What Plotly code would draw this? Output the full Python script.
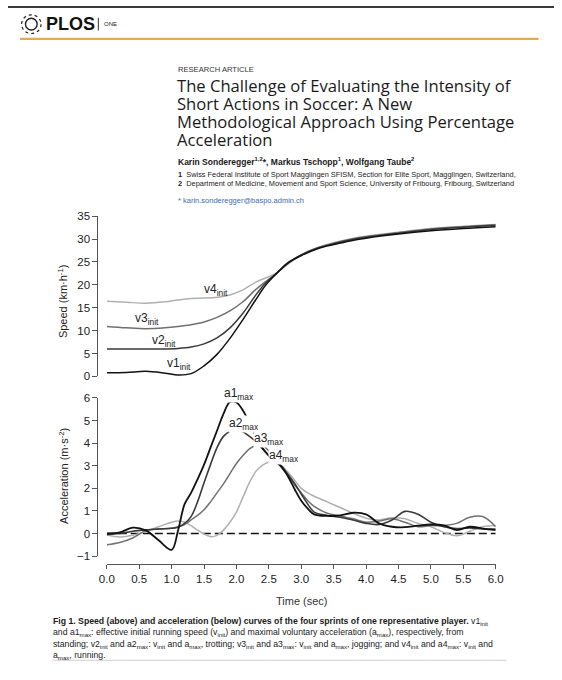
import plotly.graph_objects as go

W, H = 562, 680

# ---------------- data ----------------
t_speed = [0, 0.3, 0.6, 0.9, 1.1, 1.3, 1.5, 1.7, 1.9, 2.1, 2.3, 2.45, 2.6, 2.8, 3.0,
           3.25, 3.5, 3.75, 4.0, 4.5, 5.0, 5.5, 6.0]
v1 = [0.8, 0.85, 1.1, 0.7, 0.3, 0.6, 2.3, 4.8, 8.3, 12.4, 16.8, 19.9, 22.2, 24.8, 26.4,
      27.9, 28.8, 29.6, 30.2, 31.1, 31.8, 32.3, 32.7]
v2 = [6.0, 6.0, 6.0, 6.0, 6.1, 6.4, 7.1, 8.4, 10.6, 13.8, 17.8, 20.4, 22.3, 24.9, 26.5,
      28.0, 29.0, 29.8, 30.4, 31.3, 32.1, 32.6, 33.0]
v3 = [10.9, 10.6, 10.4, 10.6, 10.9, 11.3, 11.9, 12.9, 14.3, 16.3, 19.0, 20.7, 22.3, 24.8, 26.6,
      28.1, 29.1, 29.9, 30.5, 31.4, 32.2, 32.7, 33.1]
v4 = [16.4, 16.2, 16.0, 16.3, 16.7, 17.0, 17.1, 17.3, 17.8, 18.9, 20.6, 21.5, 22.4, 24.6, 26.5,
      28.1, 29.2, 30.0, 30.6, 31.5, 32.3, 32.8, 33.2]

t_acc = [0, 0.2, 0.4, 0.6, 0.8, 1.0, 1.1, 1.2, 1.3, 1.4, 1.5, 1.6, 1.7, 1.8, 1.9, 2.0,
         2.1, 2.2, 2.3, 2.4, 2.5, 2.6, 2.7, 2.8, 2.9, 3.0, 3.1, 3.2, 3.4, 3.6, 3.8, 4.0,
         4.2, 4.4, 4.6, 4.8, 5.0, 5.2, 5.4, 5.6, 5.8, 6.0]
a1 = [0.0, 0.05, 0.26, 0.14, -0.3, -0.72, 0.15, 1.3, 1.8, 2.4, 3.05, 3.8, 4.55, 5.3, 5.82, 5.8,
      5.45, 4.9, 4.3, 3.8, 3.45, 3.2, 2.95, 2.5, 1.95, 1.45, 1.1, 0.85, 0.78, 0.8, 0.92, 0.85,
      0.45, 0.3, 0.28, 0.35, 0.4, 0.36, 0.15, 0.3, 0.22, 0.15]
a2 = [-0.05, 0.0, 0.1, 0.16, 0.2, 0.23, 0.28, 0.45, 0.75, 1.4, 2.25, 3.05, 3.8, 4.3, 4.52, 4.6,
      4.5, 4.3, 4.07, 3.75, 3.45, 3.2, 2.95, 2.6, 2.2, 1.75, 1.3, 0.95, 0.8, 0.72, 0.6, 0.45,
      0.4, 0.6, 0.98, 0.85, 0.5, 0.3, 0.22, 0.25, 0.2, 0.2]
a3 = [-0.5, -0.4, -0.2, 0.12, 0.2, 0.23, 0.3, 0.4, 0.6, 0.8, 1.05, 1.4, 1.8, 2.2, 2.65, 3.1,
      3.45, 3.75, 3.9, 3.9, 3.65, 3.3, 2.9, 2.55, 2.15, 1.8, 1.45, 1.2, 0.9, 0.78, 0.65, 0.5,
      0.55, 0.65, 0.5, 0.3, 0.35, 0.35, 0.45, 0.72, 0.75, 0.3]
a4 = [-0.05, -0.15, -0.08, 0.1, 0.3, 0.5, 0.55, 0.5, 0.35, 0.15, -0.02, -0.14, -0.08, 0.15, 0.5, 0.95,
      1.6, 2.25, 2.75, 3.02, 3.15, 3.17, 3.0, 2.7, 2.35, 2.0, 1.8, 1.65, 1.4, 1.15, 0.9, 0.68,
      0.6, 0.7, 0.65, 0.45, 0.3, 0.05, -0.1, 0.1, 0.3, 0.35]

speed_ticks = [0, 5, 10, 15, 20, 25, 30, 35]
acc_ticks = [-1, 0, 1, 2, 3, 4, 5, 6]
time_ticks = [0.0, 0.5, 1.0, 1.5, 2.0, 2.5, 3.0, 3.5, 4.0, 4.5, 5.0, 5.5, 6.0]

colors = ["#111111", "#3a3a3a", "#707070", "#b0b0b0"]

# ---------------- helpers ----------------
def fx(px):
    return px / W

def fy(py):
    return 1 - py / H

fig = go.Figure()

for v, c in zip([v4, v3, v2, v1], colors[::-1]):
    fig.add_trace(go.Scatter(x=t_speed, y=v, mode="lines", xaxis="x2", yaxis="y2",
                             line=dict(color=c, width=1.5, shape="spline", smoothing=1.0),
                             hoverinfo="skip"))

fig.add_trace(go.Scatter(x=[0, 6], y=[0, 0], mode="lines", xaxis="x", yaxis="y",
                         line=dict(color="#111111", width=1.6, dash="8px,4px"), hoverinfo="skip"))

for a, c, w in zip([a4, a3, a2, a1], colors[::-1], [1.5, 1.5, 1.6, 1.8]):
    fig.add_trace(go.Scatter(x=t_acc, y=a, mode="lines", xaxis="x", yaxis="y",
                             line=dict(color=c, width=w, shape="spline", smoothing=1.0),
                             hoverinfo="skip"))

tickfont = dict(family="Liberation Sans, Arial, sans-serif", size=11.5, color="#222222")
axcol = "#555555"

fig.update_layout(
    width=W, height=H, margin=dict(l=0, r=0, t=0, b=0),
    paper_bgcolor="white", plot_bgcolor="white", showlegend=False,
    xaxis=dict(domain=[fx(101.7), fx(502)], range=[0, 6], anchor="free", position=fy(568),
               showline=True, linecolor=axcol, linewidth=1, ticks="outside", ticklen=4,
               tickcolor=axcol, tickvals=time_ticks, ticktext=["%.1f" % t for t in time_ticks],
               tickfont=tickfont, showgrid=False, zeroline=False),
    yaxis=dict(domain=[fy(560), fy(399)], range=[-1, 6], anchor="free", position=fx(92),
               showline=True, linecolor=axcol, linewidth=1, ticks="outside", ticklen=5,
               tickcolor=axcol, tickvals=acc_ticks, tickfont=tickfont,
               showgrid=False, zeroline=False),
    xaxis2=dict(domain=[fx(101.7), fx(502)], range=[0, 6], anchor="y2", visible=False),
    yaxis2=dict(domain=[fy(377), fy(214)], range=[0, 35], anchor="free", position=fx(92),
                showline=True, linecolor=axcol, linewidth=1, ticks="outside", ticklen=5,
                tickcolor=axcol, tickvals=speed_ticks, tickfont=tickfont,
                showgrid=False, zeroline=False),
)

ann = []

def text(t, px, py, size, family="Liberation Sans, Arial, sans-serif", color="#222222",
         xanchor="left", angle=0, bg=None):
    d = dict(text=t, x=fx(px), y=fy(py), xref="paper", yref="paper", showarrow=False,
             xanchor=xanchor, yanchor="middle", textangle=angle,
             font=dict(family=family, size=size, color=color), borderpad=0)
    if bg:
        d["bgcolor"] = bg
    ann.append(d)

# Chart labels
text("v4<sub>init</sub>", 214, 289, 12, xanchor="center")
text("v3<sub>init</sub>", 143, 319, 12, xanchor="center")
text("v2<sub>init</sub>", 161, 341, 12, xanchor="center")
text("v1<sub>init</sub>", 176, 364, 12, xanchor="center")
text("a1<sub>max</sub>", 238, 395, 12, xanchor="center", bg="white")
text("a2<sub>max</sub>", 243, 425, 12, xanchor="center", bg="white")
text("a3<sub>max</sub>", 269, 441, 12, xanchor="center", bg="white")
text("a4<sub>max</sub>", 284, 458, 12, xanchor="center", bg="white")
text("Speed (km·h<sup>-1</sup>)", 56, 300, 11, xanchor="center", angle=-90)
text("Acceleration (m·s<sup>-2</sup>)", 57, 478, 11, xanchor="center", angle=-90)
text("Time (sec)", 303, 606, 11, xanchor="center", color="#333333")

# Header
text("<b>PLOS</b>", 38, 18.5, 18, color="#111111")
text("ONE", 98, 18.5, 6, color="#222222")
text("RESEARCH ARTICLE", 174, 65, 7.6, color="#333333")
title_lines = ["The Challenge of Evaluating the Intensity of",
               "Short Actions in Soccer: A New",
               "Methodological Approach Using Percentage",
               "Acceleration"]
for i, line in enumerate(title_lines):
    text(line, 173, 80.5 + i * 18.6, 16.6, family="Open Sans, sans-serif", color="#1a1a1a")
text("<b>Karin Sonderegger<sup>1,2</sup>*, Markus Tschopp<sup>1</sup>, Wolfgang Taube<sup>2</sup></b>",
     174, 158, 8.5, color="#1a1a1a")
text("<b>1</b>  Swiss Federal Institute of Sport Magglingen SFISM, Section for Elite Sport, Magglingen, Switzerland,",
     174, 172, 7.4, color="#222222")
text("<b>2</b>  Department of Medicine, Movement and Sport Science, University of Fribourg, Fribourg, Switzerland",
     174, 181, 7.4, color="#222222")
text("* karin.sonderegger@baspo.admin.ch", 174, 197.5, 7.5, color="#3d6db3")

# Caption
cap = [
    "<b>Fig 1. Speed (above) and acceleration (below) curves of the four sprints of one representative player.</b> v1<sub>init</sub>",
    "and a1<sub>max</sub>: effective initial running speed (v<sub>init</sub>) and maximal voluntary acceleration (a<sub>max</sub>), respectively, from",
    "standing; v2<sub>init</sub> and a2<sub>max</sub>: v<sub>init</sub> and a<sub>max</sub>, trotting; v3<sub>init</sub> and a3<sub>max</sub>: v<sub>init</sub> and a<sub>max</sub>, jogging; and v4<sub>init</sub> and a4<sub>max</sub>: v<sub>init</sub> and",
    "a<sub>max</sub>, running.",
]
for i, line in enumerate(cap):
    text(line, 45, 626.5 + i * 11.5, 8.7, color="#1a1a1a")

fig.update_layout(annotations=ann)

shapes = [
    dict(type="rect", xref="paper", yref="paper", x0=0, x1=1, y0=fy(2), y1=fy(0),
         fillcolor="#3a3a3a", line=dict(width=0)),
    dict(type="line", xref="paper", yref="paper", x0=fx(12.5), x1=fx(546), y0=fy(33.5), y1=fy(33.5),
         line=dict(color="#e6a94f", width=2.2)),
    dict(type="line", xref="paper", yref="paper", x0=fx(93), x1=fx(93), y0=fy(12), y1=fy(25),
         line=dict(color="#333333", width=1)),
    dict(type="circle", xref="paper", yref="paper", x0=fx(14), x1=fx(34), y0=fy(28), y1=fy(9),
         line=dict(color="#222222", width=1.2, dash="dot")),
    dict(type="circle", xref="paper", yref="paper", x0=fx(18), x1=fx(30), y0=fy(24.5), y1=fy(12.5),
         line=dict(color="#222222", width=1.4)),
    dict(type="line", xref="paper", yref="paper", x0=fx(46), x1=fx(513), y0=fy(666), y1=fy(666),
         line=dict(color="#cccccc", width=1)),
]
fig.update_layout(shapes=shapes)

fig.write_html("out.html", config={"displayModeBar": False},
               post_script="document.documentElement.style.margin='0';document.body.style.margin='0';")
